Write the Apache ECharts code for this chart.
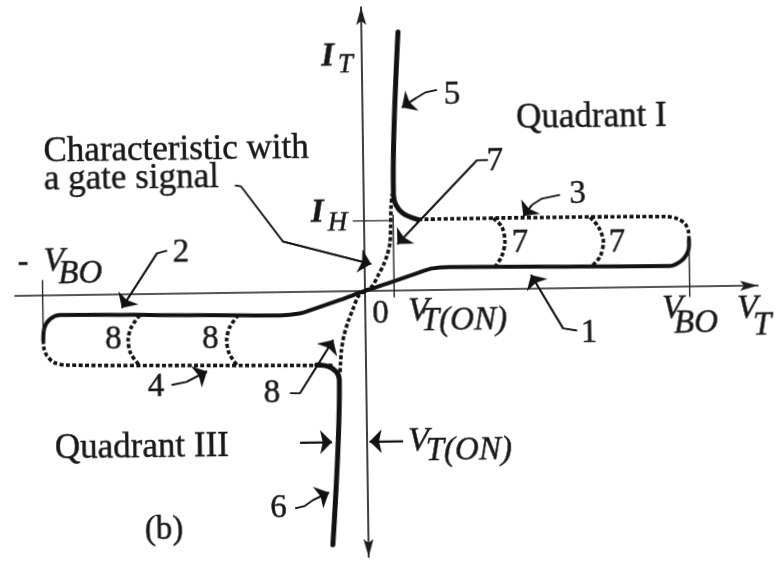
<!DOCTYPE html>
<html>
<head>
<meta charset="utf-8">
<script src="https://cdn.jsdelivr.net/npm/echarts@6/dist/echarts.min.js"></script>
<style>
  html, body { margin: 0; padding: 0; background: #fff; }
  /* the printed figure sits a little askew on the page */
  #chart { width: 775px; height: 568px; transform: rotate(-0.8deg); transform-origin: 365px 291px; }
</style>
</head>
<body>
<div id="chart"></div>
<script>
// Triac I-V characteristic: quadrant I and quadrant III.
// Voltage in units where V_BO = 10, current in units where I_H ~ 3.
const V_BO = 10;
const I_H = 3.05;
const V_TON = 0.9;

// blocking / forward curve through the origin, from -V_BO to +V_BO (solid)
const mainCurve = [
  [-9.95, -1.94], [-9.91, -1.41], [-9.73, -1.03], [-9.42, -0.86], [-6.65, -0.91],
  [-2.63, -1.01], [-2.02, -0.94], [-1.71, -0.81], [-0.78, -0.38], [0, 0],
  [0.78, 0.35], [1.71, 0.79], [2.08, 0.94], [2.63, 0.99], [6.65, 0.93],
  [9.43, 0.90], [9.77, 1.11], [9.95, 1.41], [10.02, 1.76], [10.02, 2.02]
];
// switching path back towards the on-state, quadrant I (dashed, curve 3)
const switchI = [
  [10.02, 2.02], [10.01, 2.37], [9.91, 2.72], [9.69, 2.94], [9.35, 3.05],
  [4.2, 3.09], [1.64, 3.08]
];
// on-state branch, quadrant I (solid, curve 5)
const onStateI = [
  [1.64, 3.08], [1.21, 3.35], [0.99, 3.72], [0.92, 4.16], [0.92, 4.6], [1.13, 11.24]
];
// characteristic with a gate signal, quadrant I (dashed)
const gateI = [
  [0, 0], [0.22, 0.2], [0.42, 0.69], [0.58, 1.12], [0.70, 1.55],
  [0.79, 2.06], [0.82, 2.78], [0.84, 3.65], [0.88, 4.2]
];
// intermediate gate-triggered switching loops, quadrant I (curves 7)
const loop7a = [[3.99, 3.08], [4.25, 2.71], [4.34, 2.06], [4.23, 1.41], [4.02, 0.97]];
const loop7b = [[6.98, 3.07], [7.23, 2.65], [7.38, 2.0], [7.27, 1.35], [7.01, 0.94]];

// switching path, quadrant III (dashed, curve 4)
const switchIII = [
  [-9.95, -1.94], [-9.93, -2.33], [-9.84, -2.63], [-9.63, -2.92], [-9.26, -3.04],
  [-5.13, -3.14], [-0.96, -3.22]
];
// on-state branch, quadrant III (solid, curve 6)
const onStateIII = [
  [-1.52, -3.19], [-1.17, -3.26], [-0.92, -3.5], [-0.83, -3.85], [-1.10, -11.02]
];
// characteristic with a gate signal, quadrant III (dashed)
const gateIII = [
  [0, 0], [-0.2, -0.21], [-0.39, -0.82], [-0.54, -1.34], [-0.67, -1.94],
  [-0.75, -2.55], [-0.79, -3.2], [-0.81, -3.64]
];
// intermediate switching loops, quadrant III (curves 8)
const loop8a = [[-6.96, -0.92], [-7.22, -1.41], [-7.33, -1.99], [-7.26, -2.57], [-6.98, -3.13]];
const loop8b = [[-3.92, -0.97], [-4.18, -1.47], [-4.29, -2.05], [-4.22, -2.63], [-3.97, -3.17]];

// reference marks: V_BO, -V_BO, V_T(ON), I_H
const tickVBO = [[V_BO + 0.02, 2.0], [V_BO + 0.02, -0.46]];
const tickNegVBO = [[-V_BO + 0.05, 0.67], [-V_BO + 0.05, -1.6]];
const tickVTON = [[V_TON, 3.3], [V_TON, -0.3]];
const tickIH = [[-0.35, I_H], [V_TON, I_H]];

// leader lines from the number labels to the curves (arrow at the last point)
const leader5 = [[2.31, 8.70], [1.94, 8.59], [1.66, 8.36], [1.22, 7.96]];
const leader7 = [[3.85, 5.62], [3.51, 5.61], [1.02, 2.02]];
const leader3 = [[6.06, 4.06], [5.50, 3.91], [5.19, 3.64], [4.92, 3.16]];
const leader1 = [[6.53, -1.85], [6.10, -1.75], [5.13, 0.60]];
const leader2 = [[-6.09, 1.87], [-6.40, 1.77], [-7.51, -0.59]];
const leader4 = [[-6.01, -3.97], [-5.54, -3.84], [-4.91, -3.40]];
const leader8 = [[-2.36, -4.40], [-2.05, -4.41], [-1.00, -2.11]];
const leader6 = [[-2.25, -9.41], [-1.95, -9.31], [-1.69, -9.06], [-1.20, -8.74]];
const leaderGate = [[-3.97, 4.67], [-3.78, 4.62], [-2.51, 2.20], [0.20, 1.17]];
// V_T(ON) dimension arrows in quadrant III
const dimLeft = [[-2.07, -6.55], [-1.08, -6.55]];
const dimRight = [[1.11, -6.55], [0.08, -6.55]];

const INK = '#121212';
// arrowhead with its tip at the symbol centre
const ARROW = 'path://M5,0L5,0 M5,18L10,36L5,32L0,36Z';
const SERIF = '"Liberation Serif", "Times New Roman", serif';

const chart = echarts.init(document.getElementById('chart'), null, { renderer: 'canvas' });

function solid(data, width) {
  return { type: 'line', data, symbol: 'none', smooth: 0.3, silent: true,
    lineStyle: { color: INK, width: width || 4, cap: 'round', join: 'round' } };
}
function dashed(data) {
  return { type: 'line', data, symbol: 'none', smooth: 0.3, silent: true,
    lineStyle: { color: INK, width: 3.6, type: [4, 2.4] } };
}
function thin(data) {
  return { type: 'line', data, symbol: 'none', silent: true,
    lineStyle: { color: '#262626', width: 1.4 } };
}

const leaders = [leader5, leader7, leader3, leader1, leader2, leader4, leader8, leader6, leaderGate, dimLeft, dimRight];

const series = [
  solid(mainCurve), dashed(switchI), solid(onStateI, 5), dashed(gateI),
  dashed(loop7a), dashed(loop7b),
  dashed(switchIII), solid(onStateIII, 5), dashed(gateIII),
  dashed(loop8a), dashed(loop8b),
  thin(tickVBO), thin(tickNegVBO), thin(tickVTON), thin(tickIH)
];
leaders.forEach(p => series.push({ type: 'line', data: p, symbol: 'none', silent: true,
  lineStyle: { color: INK, width: 1.8 } }));
series.push({
  type: 'lines', coordinateSystem: 'cartesian2d', silent: true,
  symbol: ['none', ARROW], symbolSize: [7, 24],
  lineStyle: { color: INK, width: 1.8, opacity: 1 },
  data: leaders.map(p => ({ coords: [p[p.length - 2], p[p.length - 1]] }))
});

// text helpers (positions in page pixels)
function txt(x, y, text, font, align) {
  return { type: 'text', x, y, silent: true, z: 10,
    style: { text, font, fill: '#181818', stroke: '#181818', lineWidth: 0.45,
      align: align || 'left', verticalAlign: 'middle',
      textAlign: align || 'left', textVerticalAlign: 'middle' } };
}
const fNum = '33px ' + SERIF;
const fWord = '35px ' + SERIF;
const fIt = 'italic 34px ' + SERIF;
const fSub = 'italic 33px ' + SERIF;
const fBold = 'italic bold 33px ' + SERIF;
const fBoldSub = 'italic 27px ' + SERIF;

const texts = [
  txt(331, 56, 'I', fBold, 'center'), txt(348.5, 65, 'T', fBoldSub, 'center'),
  txt(454.7, 96.2, '5', fNum, 'center'),
  txt(518.5, 121.1, 'Quadrant I', fWord),
  txt(45.5, 147.5, 'Characteristic with', fWord),
  txt(45.5, 175.9, 'a gate signal', fWord),
  txt(496.8, 163.8, '7', fNum, 'center'),
  txt(318.5, 212.3, 'I', fBold, 'center'), txt(338.5, 222.5, 'H', fBoldSub, 'center'),
  txt(578.9, 197, '3', fNum, 'center'),
  txt(520.7, 245.2, '7', fNum, 'center'), txt(617.7, 246.5, '7', fNum, 'center'),
  txt(23.4, 258.2, '-', fNum, 'center'), txt(54.4, 257.1, 'V', fIt, 'center'),
  txt(58.5, 270, 'BO', fSub),
  txt(181.5, 250.4, '2', fNum, 'center'),
  txt(380.2, 314.2, '0', fNum, 'center'),
  txt(407.7, 311.6, 'V', fIt), txt(420.5, 322, 'T(ON)', fSub),
  txt(588.4, 336.1, '1', fNum, 'center'),
  txt(661.7, 313.2, 'V', fIt), txt(673.5, 328.5, 'BO', fSub),
  txt(736.7, 314.2, 'V', fIt), txt(752.5, 331, 'T', fSub),
  txt(112.8, 336.5, '8', fNum, 'center'), txt(209.8, 337.8, '8', fNum, 'center'),
  txt(154.7, 384.1, '4', fNum, 'center'),
  txt(270.6, 392.7, '8', fNum, 'center'),
  txt(52.8, 445.3, 'Quadrant III', fWord),
  txt(405.9, 441.6, 'V', fIt), txt(423.5, 452.5, 'T(ON)', fSub),
  txt(275.5, 507.3, '6', fNum, 'center'),
  txt(160.7, 527.2, '(b)', fNum, 'center')
];

chart.setOption({
  animation: false,
  backgroundColor: '#ffffff',
  grid: { left: 15.08, right: 17.0, top: 7, bottom: 11, containLabel: false },
  xAxis: {
    type: 'value', min: -10.8, max: 12.13,
    axisLine: { show: true, onZero: true, symbol: ['none', ARROW], symbolSize: [10, 36],
      lineStyle: { color: '#1e1e1e', width: 1.7 } },
    axisTick: { show: false }, axisLabel: { show: false }, splitLine: { show: false }
  },
  yAxis: {
    type: 'value', min: -11.57, max: 12.35,
    axisLine: { show: true, onZero: true, symbol: [ARROW, ARROW], symbolSize: [10, 36],
      lineStyle: { color: '#1e1e1e', width: 1.7 } },
    axisTick: { show: false }, axisLabel: { show: false }, splitLine: { show: false }
  },
  series,
  graphic: texts
});
</script>
</body>
</html>
